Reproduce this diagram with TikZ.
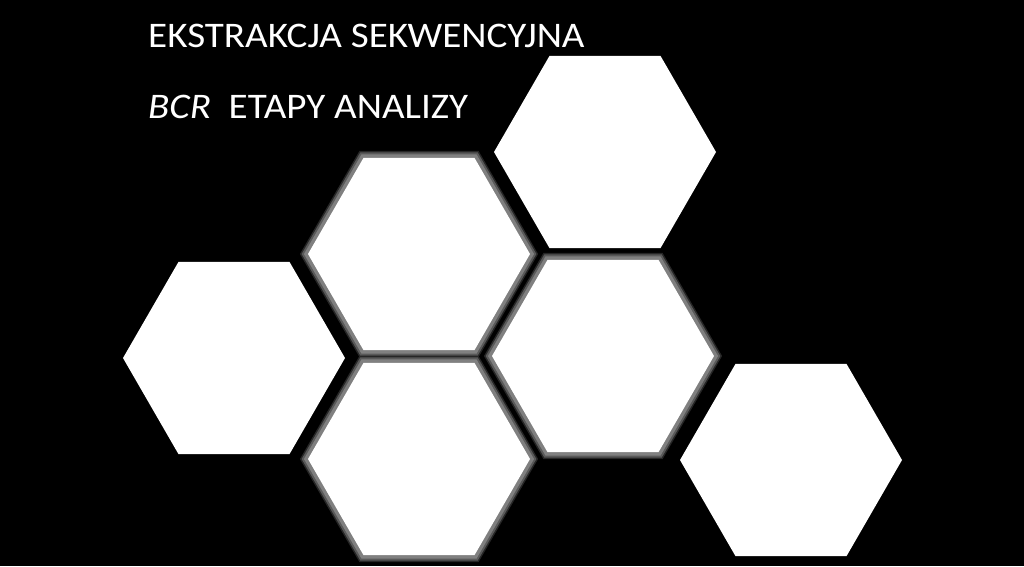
\documentclass[tikz,border=0pt]{standalone}
\usepackage{fontspec}
\setmainfont{Carlito}
\usepackage{tikz}
\usetikzlibrary{shapes.geometric}

\begin{document}
\begin{tikzpicture}[x = 1pt, y = -1pt,
		hexbox/.style = {regular polygon, regular polygon sides = 6, minimum size = 222pt, inner sep = 0pt, fill = white},
		glowhex/.style = {hexbox, preaction = {draw = black!85, line width = 14pt}, preaction = {draw = black!65, line width = 11pt}, preaction = {draw = black!50, line width = 7pt}},
		titletext/.style = {anchor = base west, inner sep = 0pt, text = white, xscale = 1.085, font = \fontsize{36}{42}\selectfont}]
	\fill[black] (0, 0) rectangle (1024, 566);
	\useasboundingbox (0, 0) rectangle (1024, 566);
	% hexagons with a gray rim
	\foreach \name/\cx/\cy in {hexB/419/254, hexD/603/356, hexE/419/459}
		\node[glowhex] (\name) at (\cx, \cy) {};
	% plain hexagons
	\foreach \name/\cx/\cy in {hexA/234/358, hexC/605/152, hexF/791/460}
		\node[hexbox] (\name) at (\cx, \cy) {};
	\node[titletext] (title) at (148, 47) {EKSTRAKCJA SEKWENCYJNA};
	\node[titletext] (subtitle) at (148, 118) {\textit{BCR}\ \ ETAPY ANALIZY};
\end{tikzpicture}
\end{document}
